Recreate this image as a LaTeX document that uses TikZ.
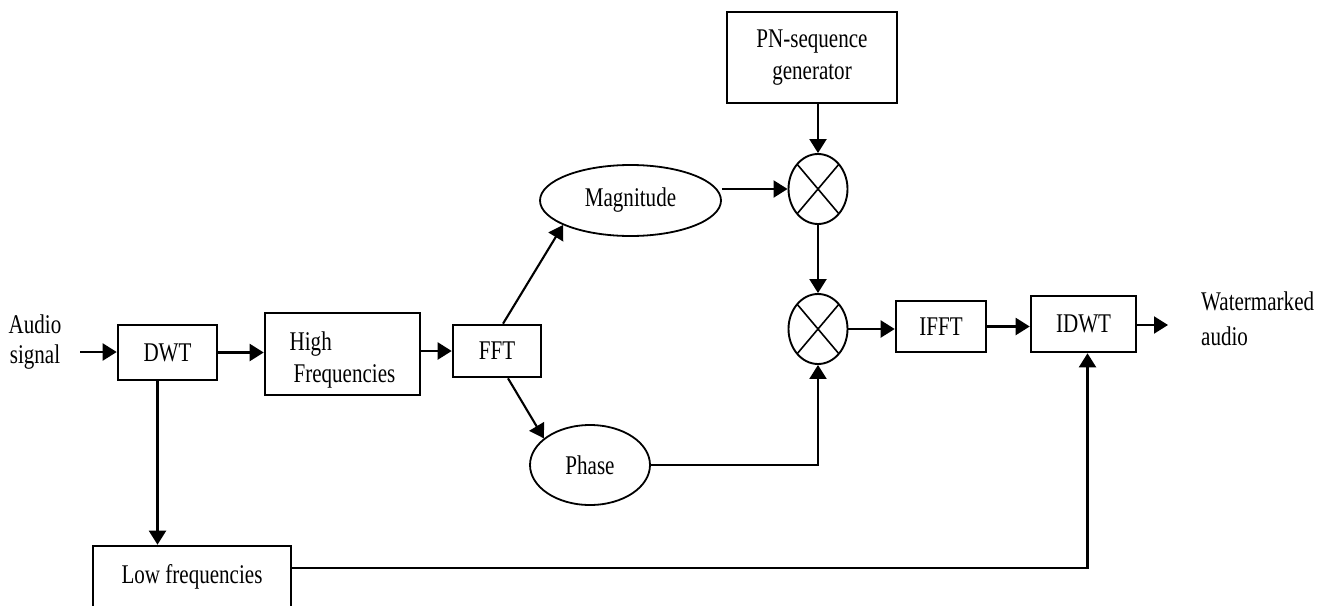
\documentclass[tikz,border=0pt]{standalone}
\usepackage{fontspec}
\setmainfont{Liberation Serif}
\usetikzlibrary{shapes.geometric,arrows.meta,calc}
\newcommand\sq[1]{\scalebox{0.78}[1]{#1}}
\newcommand\sqt[1]{\scalebox{0.78}[1]{\begin{tabular}{@{}c@{}}#1\end{tabular}}}
\newcommand\sql[1]{\scalebox{0.78}[1]{\begin{tabular}{@{}l@{}}#1\end{tabular}}}
\begin{document}
\begin{tikzpicture}[x=1pt,y=-1pt,
 every node/.style={font=\fontsize{27}{31}\selectfont, inner sep=0pt},
 box/.style={draw, line width=2.6pt, rectangle},
 oval/.style={draw, line width=1.8pt, ellipse},
 mult/.style={draw, line width=1.9pt, ellipse, minimum width=59pt, minimum height=70pt,
   path picture={\draw[line width=1.6pt] (path picture bounding box.north west) -- (path picture bounding box.south east)
     (path picture bounding box.north east) -- (path picture bounding box.south west);}},
 arr/.style={line width=2.1pt, -{Triangle[length=14pt,width=17pt]}}]
\useasboundingbox (0,0) rectangle (1330,605);
\clip (0,0) rectangle (1330,605);
\node[box, minimum width=99pt, minimum height=55pt] (dwt) at (167.5,352.5) {\sq{DWT}};
\node[box, minimum width=155pt, minimum height=82pt] (hf) at (342.5,354) {\raisebox{-6pt}[\height][\depth]{\sql{High\\[1pt]\hspace{5pt}Frequencies}}};
\node[box, minimum width=88pt, minimum height=52pt] (fft) at (497,351) {\sq{FFT}};
\node[oval, minimum width=181pt, minimum height=71pt] (mag) at (630.5,200.5) {\sq{Magnitude}};
\node[oval, minimum width=120pt, minimum height=80pt] (phase) at (590,465) {\sq{Phase}};
\node[box, minimum width=170pt, minimum height=91pt] (pn) at (812,57.5) {\sqt{PN-sequence\\[1pt]generator}};
\node[mult] (m1) at (818,189) {};
\node[mult] (m2) at (818,329) {};
\node[box, minimum width=90pt, minimum height=51pt] (ifft) at (941,326.5) {\sq{IFFT}};
\node[box, minimum width=105pt, minimum height=56pt] (idwt) at (1083.5,324) {\raisebox{1pt}{\sq{IDWT}}\hspace{10pt}};
\node[anchor=west] (out) at (1201,322) {\sql{Watermarked\\[4pt]audio}};
\node (audio) at (35,342) {\sqt{Audio\\[-1pt]signal}};
\node[box, minimum width=198pt, minimum height=74pt] (lf) at (192,583) {\raisebox{6pt}[\height][\depth]{\sq{Low frequencies}}};
\coordinate (ain) at (80,352);
\coordinate (aout) at (1168,325);
\draw[arr] (ain) -- (ain -| dwt.west);
\draw[arr] (dwt.east) -- (dwt.east -| hf.west);
\draw[arr] (hf.east |- fft.west) -- (fft.west);
\draw[arr] ([xshift=6pt]fft.north) -- (mag.200);
\draw[arr] ([xshift=11pt]fft.south) -- (phase.150);
\draw[arr] (mag.east |- m1.west) -- (m1.west);
\draw[arr] (m1.north |- pn.south) -- (m1.north);
\draw[arr] (m1.south) -- (m2.north);
\draw[arr] (phase.east) -| (m2.south);
\draw[arr] (m2.east) -- (m2.east -| ifft.west);
\draw[arr] (ifft.east) -- (ifft.east -| idwt.west);
\draw[arr] (idwt.east |- aout) -- (aout);
\draw[arr] ([xshift=-10pt]dwt.south) -- ([xshift=-10pt]dwt.south |- lf.north);
\draw[arr] ([yshift=15pt]lf.east) -| ([xshift=4pt]idwt.south);
\end{tikzpicture}
\end{document}
